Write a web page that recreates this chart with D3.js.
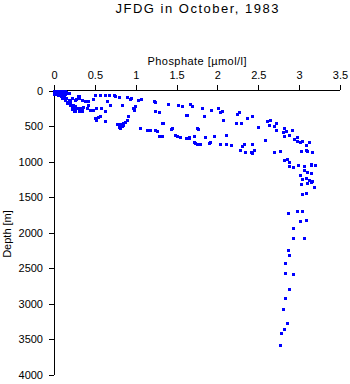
<!DOCTYPE html>
<html><head><meta charset="utf-8">
<script src="https://cdn.jsdelivr.net/npm/d3@7"></script>
<style>
html,body{margin:0;padding:0;background:#fff;}
text{font-family:"Liberation Sans",Arial,sans-serif;fill:#000;}
</style></head>
<body><svg id="c" width="350" height="384"></svg>
<script>
const title = "JFDG in October, 1983";
const xLabel = "Phosphate [\u00b5mol/l]";
const yLabel = "Depth [m]";
const xTicks = [0, 0.5, 1, 1.5, 2, 2.5, 3, 3.5];
const yTicks = [0, 500, 1000, 1500, 2000, 2500, 3000, 3500, 4000];

// phosphate [umol/l], depth [m]
const phosphate = [
 0.01,0.03,0.05,0.07,0.09,0.11,0.13,0.02,0.04,0.06,0.08,0.10,0.12,0.14,0.01,0.03,0.05,0.07,0.09,0.11,0.13,0.15,0.02,0.04,0.06,0.08,0.10,0.12,0.14,0.05,0.09,0.16,0.18,0.00,0.00,
 0.15,0.18,0.20,0.20,0.23,0.25,0.22,0.24,0.27,0.29,0.31,0.12,0.14,0.10,0.17,
 0.22,0.26,0.30,0.34,0.38,0.42,0.48,0.50,0.56,0.63,0.65,0.67,0.75,0.79,0.89,0.93,1.03,1.07,1.22,1.24,1.40,1.52,1.57,1.67,1.69,
 0.16,0.20,0.22,0.24,0.26,0.28,0.32,0.34,0.36,0.40,0.42,0.44,0.48,0.52,0.58,0.62,0.69,0.83,0.97,0.99,1.24,1.28,1.63,0.26,0.30,0.34,
 0.50,0.52,0.54,0.56,0.63,0.81,0.83,0.85,0.87,0.89,0.91,0.81,1.05,1.14,1.18,1.24,1.26,1.28,1.32,1.32,1.44,1.48,1.50,1.54,1.65,1.71,1.73,1.75,1.75,
 0.77,0.79,0.74,0.94,0.98,0.98,0.84,0.81,
 1.81,1.92,2.01,2.03,2.06,2.24,2.27,2.36,2.42,2.50,2.61,2.64,2.63,2.69,2.72,2.72,2.81,2.80,2.84,2.88,2.91,2.81,2.94,2.97,2.97,3.01,3.04,3.08,3.12,3.08,3.10,3.16,3.02,2.77,2.69,2.58,2.45,2.42,2.34,2.28,2.33,2.30,2.17,2.10,2.03,1.96,1.91,1.85,1.79,1.71,1.65,1.61,2.10,2.23,2.29,2.07,1.84,1.62,1.76,1.33,1.43,2.42,2.41,1.90,
 2.81,2.85,2.87,2.88,2.92,2.99,3.06,3.06,3.15,3.15,3.20,3.01,3.10,3.14,3.09,3.04,3.12,3.16,3.10,3.14,3.02,3.18,3.08,3.04,
 2.86,2.97,3.04,3.01,3.08,2.93,2.93,3.06,2.86,2.88,2.83,2.83,2.93,2.88,2.83,2.80,2.85,2.81,2.78,2.77
];
const depth = [
 0,5,0,10,5,0,8,15,20,25,18,22,15,20,30,35,40,32,45,38,30,25,50,55,48,60,52,65,45,70,75,40,30,10,45,
 108,127,150,187,201,235,258,282,117,84,108,90,130,100,160,
 103,127,80,127,141,141,113,66,66,66,141,66,80,94,94,113,127,117,141,159,183,197,211,183,221,
 173,197,221,244,221,253,244,268,235,244,197,268,268,253,244,291,207,197,244,221,282,300,338,291,291,291,
 385,408,375,361,422,469,502,455,441,408,361,525,525,549,549,549,573,643,643,455,525,620,643,657,657,643,737,751,525,
 469,516,70,103,249,268,492,530,
 244,268,244,305,291,324,296,385,352,511,432,408,488,502,455,558,525,587,568,624,558,643,680,714,657,728,704,760,728,840,855,863,855,855,869,700,831,877,863,831,746,774,760,746,751,643,728,653,751,728,666,671,620,455,455,408,352,338,540,455,540,751,869,737,
 972,958,1004,1056,1080,1042,1066,1112,1028,1052,1042,1187,1150,1159,1229,1243,1253,1267,1300,1291,1314,1356,1440,1455,
 1722,1699,1699,1830,1821,1933,2074,2074,2243,2313,2426,2567,2577,2792,2919,3074,3271,3355,3412,3572
];

const data = phosphate.map((p, i) => ({p, d: depth[i]}));

const svg = d3.select("#c");
const x = d3.scaleLinear().domain([0, 3.5]).range([54, 340]);
const y = d3.scaleLinear().domain([0, 4000]).range([90.5, 375]);

// top axis
const gx = svg.append("g").attr("transform", "translate(0,90)")
  .call(d3.axisTop(x).tickValues(xTicks).tickSize(5).tickSizeOuter(0).tickPadding(6).tickFormat(d => String(d)));
// left axis
const gy = svg.append("g").attr("transform", "translate(54,0)")
  .call(d3.axisLeft(y).tickValues(yTicks).tickSize(5).tickSizeOuter(0).tickPadding(6).tickFormat(d => String(d)));

[gx, gy].forEach(g => {
  g.select(".domain").attr("stroke", "#000").attr("stroke-width", 1).attr("shape-rendering", "crispEdges");
  g.selectAll(".tick line").attr("stroke", "#000").attr("shape-rendering", "crispEdges");
  g.selectAll(".tick text").attr("font-family", "Liberation Sans, Arial, sans-serif")
    .attr("font-size", 11).attr("fill", "#000");
});
gx.select(".domain").attr("d", "M54,0H340");
gy.select(".domain").attr("d", "M0,90V375");

// points
svg.append("g").selectAll("rect").data(data).join("rect")
  .attr("x", d => Math.round(x(d.p)) - 1.5)
  .attr("y", d => Math.round(y(d.d)) - 1.5)
  .attr("width", 3).attr("height", 3)
  .attr("fill", "#0000ff")
  .attr("shape-rendering", "crispEdges");

// title
svg.append("text").attr("x", 197).attr("y", 13).attr("text-anchor", "middle")
  .attr("font-size", 13).attr("textLength", 163).attr("lengthAdjust", "spacing").text(title);
// x label
svg.append("text").attr("x", 197).attr("y", 65).attr("text-anchor", "middle")
  .attr("font-size", 11).attr("textLength", 99).attr("lengthAdjust", "spacing").text(xLabel);
// y label
svg.append("text").attr("transform", "translate(10.5,234) rotate(-90)").attr("text-anchor", "middle")
  .attr("font-size", 11).text(yLabel);
</script></body></html>
